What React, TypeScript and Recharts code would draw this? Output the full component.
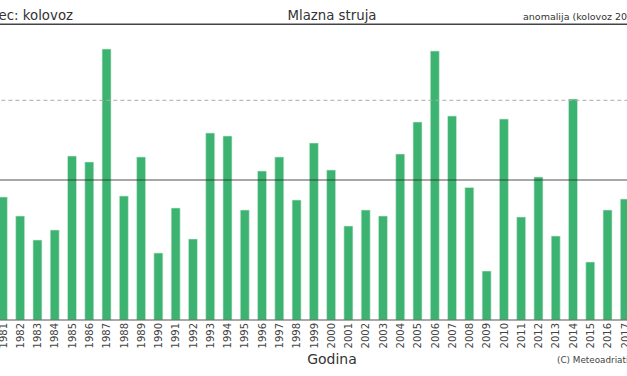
import { Bar, BarChart, ReferenceLine, XAxis, YAxis } from 'recharts';

const years = [
  '1981', '1982', '1983', '1984', '1985', '1986', '1987', '1988', '1989', '1990',
  '1991', '1992', '1993', '1994', '1995', '1996', '1997', '1998', '1999', '2000',
  '2001', '2002', '2003', '2004', '2005', '2006', '2007', '2008', '2009', '2010',
  '2011', '2012', '2013', '2014', '2015', '2016', '2017',
];

const jetValues = [
  12.3, 10.4, 8.0, 9.0, 16.4, 15.8, 27.1, 12.4, 16.3, 6.7,
  11.2, 8.1, 18.7, 18.4, 11.0, 14.9, 16.3, 12.0, 17.7, 15.0,
  9.4, 11.0, 10.4, 16.6, 19.8, 26.9, 20.4, 13.25, 4.9, 20.1,
  10.3, 14.3, 8.4, 22.1, 5.8, 11.0, 12.1,
];

const meanLevel = 14.0;
const upperLevel = 21.97;
const yMax = 29.57;

const data = years.map((year, i) => ({ year, value: jetValues[i] }));

const FONT = '"DejaVu Sans", sans-serif';

const YearTick = (props: any) => {
  const { x, y, payload } = props;
  return (
    <text
      transform={`translate(${x + 3.6},${y}) rotate(-90)`}
      textAnchor="end"
      fontSize={10}
      fontFamily={FONT}
      fill="#444"
    >
      {payload.value}
    </text>
  );
};

export default function App() {
  return (
    <div
      style={{
        position: 'fixed',
        left: 0,
        top: 0,
        width: 627,
        height: 376,
        overflow: 'hidden',
        background: '#fff',
      }}
    >
      <BarChart
        width={680}
        height={376}
        data={data}
        margin={{ top: 24.3, right: 26.4, bottom: 26, left: 14.4 }}
        style={{ position: 'absolute', left: -20, top: 0 }}
      >
        <XAxis
          dataKey="year"
          interval={0}
          height={30}
          tickLine={false}
          tickSize={0}
          tickMargin={3}
          axisLine={{ stroke: '#555', strokeWidth: 1.2 }}
          tick={<YearTick />}
        />
        <YAxis hide domain={[0, yMax]} allowDataOverflow />
        <ReferenceLine y={upperLevel} stroke="#aaa" strokeDasharray="4 3" strokeWidth={1} />
        <ReferenceLine y={yMax} stroke="#444" strokeWidth={1.5} />
        <Bar
          dataKey="value"
          fill="#3cb371"
          stroke="#d8f0e0"
          strokeWidth={0.6}
          barSize={9}
          isAnimationActive={false}
        />
        <ReferenceLine y={meanLevel} stroke="#333" strokeOpacity={0.85} strokeWidth={1.2} />
      </BarChart>
      <svg
        width={627}
        height={376}
        style={{ position: 'absolute', left: 0, top: 0, pointerEvents: 'none' }}
      >
        <text x={73} y={19.5} textAnchor="end" fontSize={13.3} fontFamily={FONT} fill="#333">
          Mjesec: kolovoz
        </text>
        <text x={332} y={19.5} textAnchor="middle" fontSize={13.3} fontFamily={FONT} fill="#333">
          Mlazna struja
        </text>
        <text x={523} y={19.5} fontSize={9.5} fontFamily={FONT} fill="#333">
          anomalija (kolovoz 2017)
        </text>
        <text x={332} y={364} textAnchor="middle" fontSize={14} fontFamily={FONT} fill="#333">
          Godina
        </text>
        <text x={557} y={363} fontSize={8.8} fontFamily={FONT} fill="#444">
          (C) Meteoadriatic.net
        </text>
      </svg>
    </div>
  );
}
